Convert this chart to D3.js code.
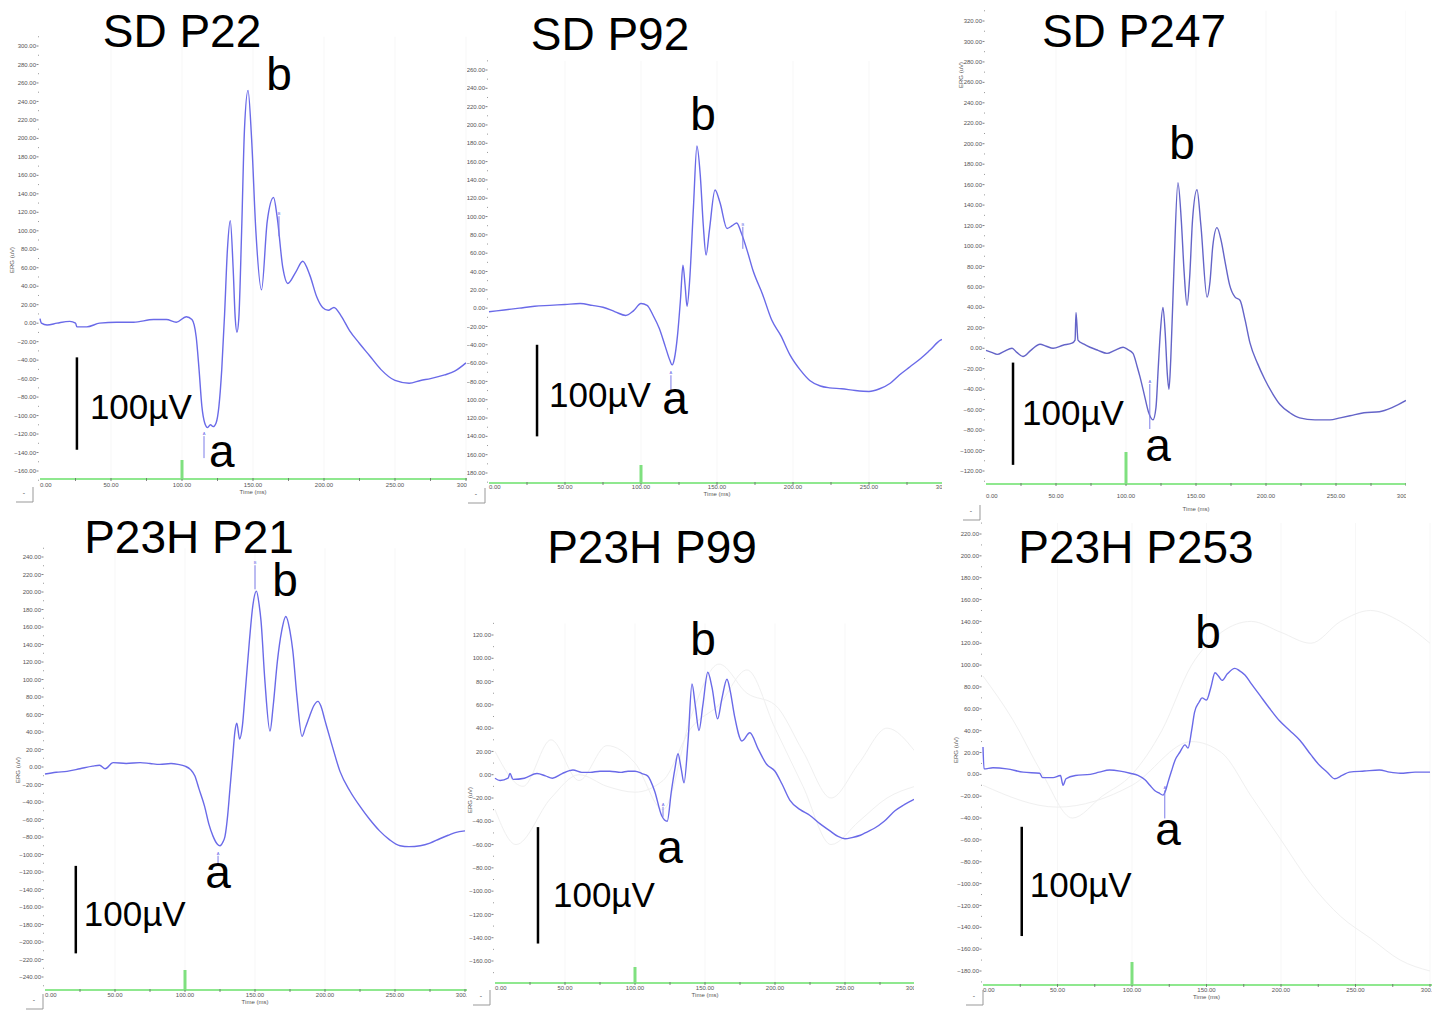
<!DOCTYPE html>
<html>
<head>
<meta charset="utf-8">
<script src="https://cdn.jsdelivr.net/npm/d3@7"></script>
<style>
body { margin: 0; background: #fff; }
svg { display: block; }
text { font-family: "Liberation Sans", Arial, sans-serif; }
</style>
</head>
<body>
<div id="container"></div>
<script>
var w = 1437
var h = 1010

// ERG traces: [time (ms), amplitude (µV)]
var sdP22 = [[0,5],[1,0],[5,-2],[12,0],[21,2],[25,0],[26,-4],[33,-4],[42,0],[54,1],[66,1],[80,4],[89,4],[96,1],[103,7],[107,4],[110,-15],[112,-50],[114,-90],[116,-108],[118,-113],[120,-110],[122,-112],[124,-108],[126,-90],[128,-50],[130,10],[132,80],[134,111],[136,60],[137.5,5],[138.7,-10],[140,5],[142,100],[144,210],[146.5,252],[149,200],[152,100],[156,36],[160,110],[164.5,136],[167,115],[171,60],[174.5,43],[180,55],[185,67],[190,52],[195,28],[199,17],[203,14],[207,17],[212,8],[218,-8],[225,-22],[232,-35],[240,-50],[250,-62],[260,-65],[268,-62],[275,-60],[285,-56],[292,-52],[300,-43]]
var sdP92 = [[0,-4],[10,-2],[20,0],[30,2],[40,3],[50,4],[60,5],[68,3],[75,1],[83,-4],[90,-8],[95,-3],[100,5],[104,3],[108,-8],[112,-22],[116,-42],[119,-57],[120.5,-62],[122,-55],[124,-30],[126,10],[127.6,47],[129,25],[130.3,2],[132,30],[134.5,110],[136.8,177],[139,145],[141,90],[142.8,58],[145,85],[148.7,129],[152,115],[156.6,87],[160,90],[163,93],[166,82],[170,62],[173.7,41],[180,15],[186,-13],[192,-30],[198,-51],[205,-68],[211,-79],[218,-85],[224,-87],[232,-88],[241,-90],[250,-91],[257,-88],[264,-82],[270,-73],[277,-64],[284,-55],[290,-46],[297,-35],[300,-33]]
var sdP247 = [[0,-2],[4,-4],[8,-6],[13,-3],[18.6,0],[22,-4],[26.4,-8],[32,-2],[38.6,4],[43,2],[47.9,0],[55,3],[61.4,5],[63.6,8],[64.3,35],[65.7,8],[70,4],[74.3,1],[80,-2],[86.4,-5],[92,-2],[97.9,1],[101,-1],[105,-5],[108,-18],[110,-28],[113,-45],[116,-62],[119.3,-70],[121.4,-58],[123,-20],[124.5,15],[126.4,40],[128,15],[129.5,-25],[130.7,-40],[132,-10],[134.3,80],[137.1,162],[139.5,125],[141.5,75],[143.6,42],[145.5,70],[147.5,125],[150.7,155],[153.5,120],[157.9,50],[160,65],[162,100],[165,118],[168,105],[170.7,85],[174,62],[177.9,50],[181.4,47],[185,28],[188.6,5],[194,-15],[199,-30],[205,-45],[210,-55],[217,-63],[224,-68],[235,-70],[245.7,-70],[253,-68],[260,-66],[270,-63],[281,-62],[290,-58],[300,-51]]
var p23hP21 = [[0,-8],[8,-6],[15.7,-5],[25,-2],[34,1],[39,2],[43,-2],[48.6,5],[58,4],[68,5],[75,4],[82,3],[90,4],[95,3],[100,1],[104,-3],[107,-10],[110,-25],[114,-45],[117,-65],[120,-79],[123,-88],[125,-90],[127,-86],[128.6,-79],[130.5,-55],[132,-27],[134,10],[135.7,41],[137,50],[139,32],[141,47],[143,85],[146,144],[148.5,185],[151,201],[153,185],[154.3,167],[157,100],[160.7,41],[163,70],[166,121],[169,155],[172,172],[175,155],[177,133],[180,80],[183.6,35],[186,45],[189,58],[192,70],[195,75],[197,70],[200,53],[205,25],[210.7,-5],[218,-28],[225,-45],[232,-60],[239,-73],[246,-83],[253.6,-90],[260,-91],[268,-90],[275,-87],[282,-82],[288,-78],[293,-75],[300,-73]]
var p23hP99 = [[0,-3],[3.6,-5],[9.3,-3],[10.7,1],[12.9,-4],[21,-3],[30,1],[36,-1],[41,-3],[48,1],[55.7,4],[62,2],[68,2],[75,3],[82,3],[90,2],[95,3],[100,3],[105,1],[109,-1],[114,-14],[119,-35],[123,-40],[126,-14],[128.5,5],[130.7,18],[133,5],[135,-7],[137.9,29],[140.7,78],[143,60],[145.7,38],[148.5,60],[152,88],[155,75],[159,48],[162,65],[165.7,82],[168,72],[171,51],[176.4,29],[182,36],[188,22],[194,9],[200,3],[205,-8],[210.7,-22],[218,-30],[225,-35],[232,-42],[239,-48],[245,-53],[250,-55],[255,-54],[261,-52],[266,-49],[271,-46],[278,-40],[285.7,-31],[292,-26],[298,-22],[300,-21]]
var p23hP253 = [[0,25],[0.7,5],[6.7,6],[16,5],[27,2],[38,1],[40,-3],[47,-3],[52,-1],[53.7,-10],[55.7,-4],[62,-1],[72,0],[78,2],[85,4],[92,3],[98.7,1],[104,-1],[108.7,-5],[112,-10],[115.4,-15],[118,-17],[120.8,-19],[122.5,-15],[124,-8],[126.5,3],[128.9,13],[132,20],[135.6,27],[137.6,24],[140,40],[142,57],[145,66],[147,70],[150,68],[153,80],[155.7,93],[158,90],[160.4,86],[164,92],[169,97],[172,95],[175.8,91],[180,83],[186,72],[192,61],[199,49],[206,40],[212.8,31],[220,18],[226,8],[231,2],[236,-4],[241,-1],[246,2],[256,3],[266,4],[273,2],[280,1],[290,2],[298.7,2],[300,2]]

// faint individual sweeps behind the averages (only the visible ones)
var faintP99a = [[0,20],[20,-10],[40,30],[60,-5],[80,25],[100,10],[120,-30],[140,50],[160,95],[180,70],[200,60],[220,20],[240,-20],[260,10],[280,40],[300,20]]
var faintP99b = [[0,-30],[15,-60],[40,-20],[60,0],[80,-10],[100,-15],[120,-5],[140,40],[160,60],[180,90],[200,40],[220,-10],[240,-60],[260,-40],[280,-20],[300,-10]]
var faintP253a = [[0,90],[20,50],[40,0],[60,-40],[80,-20],[100,0],[120,40],[140,100],[160,130],[180,140],[200,130],[220,120],[240,140],[260,150],[280,140],[300,120]]
var faintP253b = [[0,-10],[50,-30],[100,-10],[140,30],[160,20],[180,-20],[200,-60],[220,-100],[240,-130],[260,-150],[280,-170],[300,-180]]

var titles = ["SD P22", "SD P92", "SD P247", "P23H P21", "P23H P99", "P23H P253"]
var traces = [sdP22, sdP92, sdP247, p23hP21, p23hP99, p23hP253]
var faint = [[], [], [], [], [faintP99a, faintP99b], [faintP253a, faintP253b]]
var xTicks = [0, 50, 100, 150, 200, 250, 300]
// labelled y ticks: [top, bottom], every 20 µV
var yTickRange = [[300, -160], [260, -180], [320, -120], [240, -240], [120, -160], [220, -180]]
// a- and b-wave letter positions [t, µV]
var aPos = [[128, -156], [122.4, -116], [122.9, -110], [123.6, -138], [125, -76], [124.2, -65]]
var bPos = [[168.3, 252], [140.8, 195], [140, 185], [171.4, 195], [148.6, 103], [151, 116]]
// cursor markers [t, µV]
var aCursor = [[115.5, -119], [119.7, -70], [117, -32], [123.6, -98], [120, -25], [122, -12]]
var bCursor = [[168.3, 119], [167, 92], null, [150, 234], null, null]
// 100 µV scale bars: [t, top µV]
var scaleBar = [[26, -37], [31.6, -40], [19.3, -14], [22, -113], [30.7, -45], [26, -48]]

// screen layout of the six recordings
var layout = [
    { xr: [40, 466], yr: [46, 471], axisY: 479, stim: 19, clip: [0, 0, 467, 508], title: [182, 47], barText: [13, 15], cursorLen: [22, 20], lblOff: [8, 15], ylab: [14, 260], widget: [33, 487] },
    { xr: [489, 945], yr: [70, 473], axisY: 483, stim: 18, clip: [467, 0, 475, 508], title: [610, 50], barText: [12, 16], cursorLen: [18, 22], lblOff: [6, 13], ylab: null, widget: [485, 488] },
    { xr: [986, 1406], yr: [21, 471], axisY: 484, stim: 32, clip: [942, 0, 464, 525], title: [1134, 47], barText: [9, 11], cursorLen: [45, 0], lblOff: [14, 27], ylab: [963, 75], widget: [980, 505] },
    { xr: [45, 465], yr: [557, 977], axisY: 990, stim: 20, clip: [0, 515, 467, 495], title: [189, 553], barText: [8, 16], cursorLen: [10, 24], lblOff: [7, 14], ylab: [20, 770], widget: [43, 994] },
    { xr: [495, 915], yr: [635, 961], axisY: 983, stim: 16, clip: [467, 515, 447, 495], title: [652, 563], barText: [15, 22], cursorLen: [10, 0], lblOff: [7, 14], ylab: [472, 800], widget: [490, 990] },
    { xr: [983, 1430], yr: [534, 971], axisY: 985, stim: 23, clip: [942, 515, 490, 495], title: [1136, 563], barText: [8, 16], cursorLen: [28, 0], lblOff: [7, 14], ylab: [958, 750], widget: [983, 990] }
]

var svg = d3.select("#container").append("svg")
    .attr("width", w)
    .attr("height", h)
    .style("background-color", "#fff")

var line = d3.line().curve(d3.curveMonotoneX)
var fmt = d3.format(".2f")

layout.forEach(function (p, i) {
    var yr = yTickRange[i]
    var x = d3.scaleLinear().domain([0, 300]).range(p.xr)
    var y = d3.scaleLinear().domain(yr).range(p.yr)
    line.x(function (d) { return x(d[0]) }).y(function (d) { return y(d[1]) })

    svg.append("clipPath").attr("id", "clip" + i)
        .append("rect")
        .attr("x", p.clip[0]).attr("y", p.clip[1])
        .attr("width", p.clip[2]).attr("height", p.clip[3])

    var g = svg.append("g").attr("clip-path", "url(#clip" + i + ")")
    var top = y(yr[0] + 10)

    // faint grid
    g.selectAll(".grid").data(xTicks.slice(1)).enter().append("line")
        .attr("x1", function (d) { return x(d) }).attr("x2", function (d) { return x(d) })
        .attr("y1", top).attr("y2", p.axisY)
        .attr("stroke", "#f7f7f7").attr("stroke-width", 1)

    // y axis labels and ticks
    var yt = d3.range(yr[0], yr[1] - 1, -20)
    g.selectAll(".ylab").data(yt).enter().append("text")
        .attr("x", x(0) - 4).attr("y", function (d) { return y(d) })
        .attr("dy", "0.35em").attr("text-anchor", "end")
        .attr("font-size", 6).attr("fill", "#555")
        .text(function (d) { return fmt(d) })
    g.selectAll(".ytick").data(yt).enter().append("line")
        .attr("x1", x(0) - 3.5).attr("x2", x(0) - 1.5)
        .attr("y1", function (d) { return y(d) }).attr("y2", function (d) { return y(d) })
        .attr("stroke", "#666").attr("stroke-width", 0.8)
    g.selectAll(".yminor").data(yt.map(function (d) { return d + 10 }).concat([yr[1] - 10])).enter().append("rect")
        .attr("x", x(0) - 2).attr("y", function (d) { return y(d) - 0.5 })
        .attr("width", 1).attr("height", 1).attr("fill", "#999")

    if (p.ylab) {
        g.append("text")
            .attr("transform", "translate(" + p.ylab[0] + "," + p.ylab[1] + ") rotate(-90)")
            .attr("text-anchor", "middle").attr("font-size", 6).attr("fill", "#555")
            .text("ERG (uV)")
    }

    // x axis
    g.append("line")
        .attr("x1", x(0)).attr("x2", x(310))
        .attr("y1", p.axisY).attr("y2", p.axisY)
        .attr("stroke", "#8fe88f").attr("stroke-width", 2.2)
    g.selectAll(".xtick").data(d3.range(25, 301, 25)).enter().append("line")
        .attr("x1", function (d) { return x(d) }).attr("x2", function (d) { return x(d) })
        .attr("y1", p.axisY - 1).attr("y2", p.axisY + 2)
        .attr("stroke", "#666").attr("stroke-width", 0.8)
    g.selectAll(".xlab").data(xTicks).enter().append("text")
        .attr("x", function (d) { return x(d) }).attr("y", p.axisY + p.lblOff[0])
        .attr("text-anchor", function (d) { return d === 0 ? "start" : "middle" })
        .attr("font-size", 6).attr("fill", "#555")
        .text(function (d) { return fmt(d) })
    g.append("text")
        .attr("x", x(150)).attr("y", p.axisY + p.lblOff[1])
        .attr("text-anchor", "middle").attr("font-size", 6).attr("fill", "#555")
        .text("Time (ms)")

    // stimulus flash
    g.append("line")
        .attr("x1", x(100)).attr("x2", x(100))
        .attr("y1", p.axisY).attr("y2", p.axisY - p.stim)
        .attr("stroke", "#7fe07f").attr("stroke-width", 3)

    // corner widget
    g.append("path")
        .attr("d", "M" + p.widget[0] + "," + p.widget[1] + "v15h-17")
        .attr("fill", "none").attr("stroke", "#999").attr("stroke-width", 1)
    g.append("text")
        .attr("x", p.widget[0] - 9).attr("y", p.widget[1] + 8)
        .attr("text-anchor", "middle").attr("font-size", 7).attr("fill", "#555")
        .text("-")

    // individual sweeps
    faint[i].forEach(function (f) {
        g.append("path").datum(f)
            .attr("d", line)
            .attr("fill", "none").attr("stroke", "#f0f0f0").attr("stroke-width", 1)
    })

    // averaged trace
    g.append("path").datum(traces[i])
        .attr("d", line)
        .attr("fill", "none")
        .attr("stroke", i === 2 ? "#6464c8" : "#6a6ae8")
        .attr("stroke-width", 1.4)

    // cursors
    var ac = aCursor[i]
    g.append("line")
        .attr("x1", x(ac[0])).attr("x2", x(ac[0]))
        .attr("y1", y(ac[1]) + 3).attr("y2", y(ac[1]) + 3 + p.cursorLen[0])
        .attr("stroke", "#7c7ce8").attr("stroke-width", 1)
    g.append("text")
        .attr("x", x(ac[0])).attr("y", y(ac[1]) + 2)
        .attr("text-anchor", "middle").attr("font-size", 4).attr("fill", "#6a6ae8")
        .text("A")
    var bc = bCursor[i]
    if (bc) {
        g.append("line")
            .attr("x1", x(bc[0])).attr("x2", x(bc[0]))
            .attr("y1", y(bc[1]) + 3).attr("y2", y(bc[1]) + 3 + p.cursorLen[1])
            .attr("stroke", "#7c7ce8").attr("stroke-width", 1)
        g.append("text")
            .attr("x", x(bc[0])).attr("y", y(bc[1]) + 2)
            .attr("text-anchor", "middle").attr("font-size", 4).attr("fill", "#6a6ae8")
            .text("B")
    }

    // scale bar
    var sb = scaleBar[i]
    g.append("line")
        .attr("x1", x(sb[0])).attr("x2", x(sb[0]))
        .attr("y1", y(sb[1])).attr("y2", y(sb[1] - 100))
        .attr("stroke", "#000").attr("stroke-width", 2.5)
    g.append("text")
        .attr("x", x(sb[0]) + p.barText[0])
        .attr("y", (y(sb[1]) + y(sb[1] - 100)) / 2 + p.barText[1])
        .attr("font-size", 35).attr("fill", "#000")
        .text("100µV")

    // wave letters
    g.append("text")
        .attr("x", x(aPos[i][0])).attr("y", y(aPos[i][1]))
        .attr("text-anchor", "middle").attr("font-size", 46).attr("fill", "#000")
        .text("a")
    g.append("text")
        .attr("x", x(bPos[i][0])).attr("y", y(bPos[i][1]))
        .attr("text-anchor", "middle").attr("font-size", 46).attr("fill", "#000")
        .text("b")

    // title
    svg.append("text")
        .attr("x", p.title[0]).attr("y", p.title[1])
        .attr("text-anchor", "middle").attr("font-size", 46).attr("fill", "#000")
        .text(titles[i])
})
</script>
</body>
</html>
